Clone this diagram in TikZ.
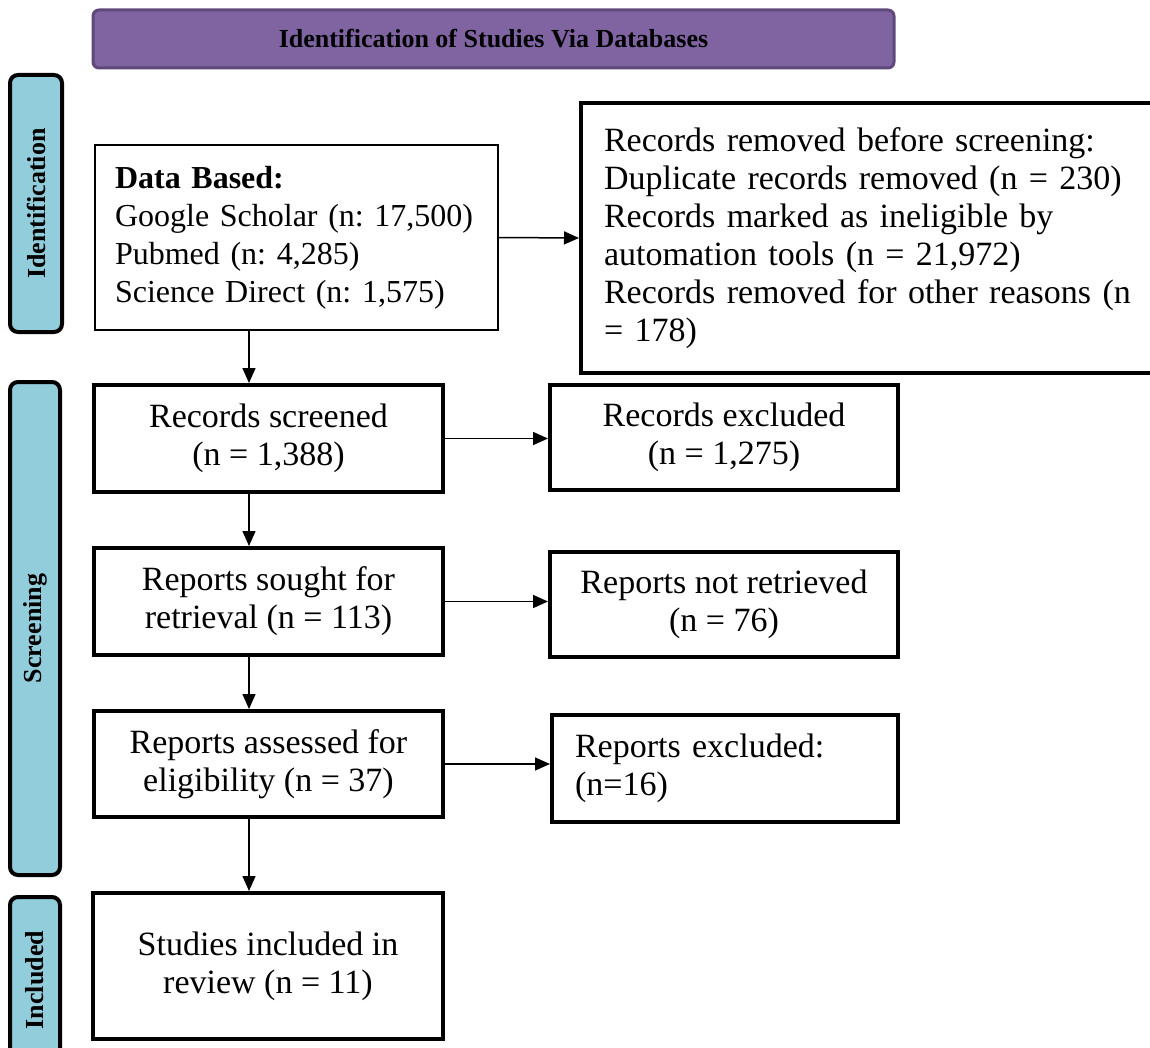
\documentclass[tikz,border=0pt]{standalone}
\usepackage{fontspec}
\setmainfont{Liberation Serif}
\usetikzlibrary{arrows.meta}

\definecolor{headpurple}{HTML}{8064A2}
\definecolor{headedge}{HTML}{5F497A}
\definecolor{stageblue}{HTML}{92CDDC}

\begin{document}
\begin{tikzpicture}[x=0.5pt,y=-0.5pt,>={Triangle[length=7.5pt,width=6.5pt]}]
% % Styles
 \tikzset{
 	box/.style={draw,line width=2pt,inner sep=0pt,align=center,
 		font=\frenchspacing\fontsize{17}{19}\selectfont},
 	stage/.style={draw,line width=2pt,fill=stageblue,rounded corners=4pt,
 		rotate=90,inner sep=0pt,font=\bfseries\fontsize{13}{14}\selectfont},
 	flow/.style={->,line width=0.75pt}
 }
 \useasboundingbox (0,0) rectangle (1150,1048);
% % Header
 \node[draw=headedge,line width=1.5pt,fill=headpurple,rounded corners=3pt,
 	minimum width=400.5pt,minimum height=29pt,font=\bfseries\fontsize{13}{15}\selectfont]
 	(head) at (493.5,39) {Identification of Studies Via Databases};
% % Stage bars
 \node[stage,minimum width=128.5pt,minimum height=26pt] (idbar) at (36,203.5) {Identification};
 \node[stage,minimum width=246.5pt,minimum height=25pt] (scrbar) at (35,628.5) {Screening};
 \node[stage,minimum width=83pt,minimum height=25pt] (incbar) at (35,980) {Included};
% % Left column
 \node[box,line width=0.75pt,align=left,inner xsep=10pt,text width=181.5pt,
 	minimum height=92.5pt,font=\frenchspacing\fontsize{16}{19}\selectfont] (data) at (296.5,237.5)
 	{\textbf{Data Based:}\\Google Scholar (n: 17,500)\\Pubmed (n: 4,285)\\Science Direct (n: 1,575)};
 \node[box,minimum width=174.5pt,minimum height=53.5pt] (screened) at (268.5,438.5)
 	{Records screened\\(n = 1,388)};
 \node[box,minimum width=174.5pt,minimum height=53.5pt] (sought) at (268.5,601.5)
 	{Reports sought for\\retrieval (n = 113)};
 \node[box,minimum width=174.5pt,minimum height=53pt] (assessed) at (268.5,764)
 	{Reports assessed for\\eligibility (n = 37)};
 \node[box,minimum width=175pt,minimum height=73pt] (studies) at (268,966)
 	{Studies included in\\review (n = 11)};
% % Right column
 \node[box,align=left,inner xsep=11.5pt,text width=264.5pt,minimum height=135pt]
 	(removed) at (868.5,238)
 	{Records removed before screening:\\Duplicate records removed (n = 230)\\Records marked as ineligible by\\automation tools (n = 21,972)\\Records removed for other reasons (n\\= 178)};
 \node[box,minimum width=174pt,minimum height=52.5pt] (excluded) at (724,437.5)
 	{Records excluded\\(n = 1,275)};
 \node[box,minimum width=174pt,minimum height=52.5pt] (notretr) at (724,604.5)
 	{Reports not retrieved\\(n = 76)};
 \node[box,align=left,inner xsep=11.5pt,text width=150pt,minimum height=53.5pt]
 	(repexcl) at (725,768.5) {Reports excluded:\\(n=16)};
% % Connectors
 \coordinate (trunk) at (249,0);
 \draw[flow] (data.south -| trunk) -- (screened.north -| trunk);
 \draw[flow] (screened.south -| trunk) -- (sought.north -| trunk);
 \draw[flow] (sought.south -| trunk) -- (assessed.north -| trunk);
 \draw[flow] (assessed.south -| trunk) -- (studies.north -| trunk);
 \draw[flow] (data.east) -- (removed.west);
 \draw[flow] (screened.east) -- (screened.east -| excluded.west);
 \draw[flow] (sought.east) -- (sought.east -| notretr.west);
 \draw[flow] (assessed.east) -- (assessed.east -| repexcl.west);
\end{tikzpicture}
\end{document}
